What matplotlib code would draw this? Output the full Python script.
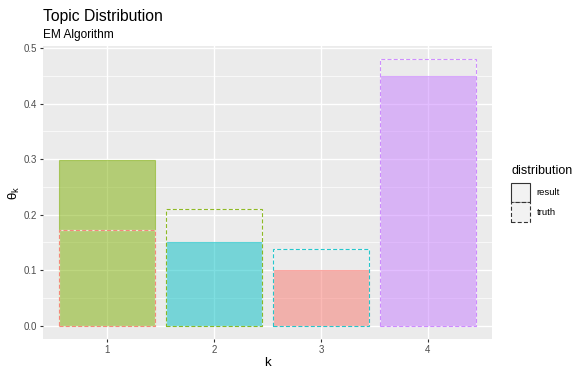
import matplotlib
matplotlib.use("Agg")
import matplotlib.pyplot as plt
from matplotlib.patches import Patch
import numpy as np

# data
k_labels = ["1", "2", "3", "4"]
result = [0.298, 0.150, 0.100, 0.450]
truth = [0.173, 0.210, 0.139, 0.480]

# ggplot default hue palette
hue = ["#F8766D", "#7CAE00", "#00BFC4", "#C77CFF"]
result_colors = [hue[1], hue[2], hue[0], hue[3]]
truth_colors = [hue[0], hue[1], hue[2], hue[3]]

plt.rcParams['font.family'] = ['Liberation Sans', 'DejaVu Sans']
plt.rcParams['mathtext.fontset'] = 'custom'
plt.rcParams['mathtext.rm'] = 'Liberation Sans'
plt.rcParams['mathtext.it'] = 'Liberation Sans'

W, H = 586, 376
fig = plt.figure(figsize=(W / 100, H / 100), dpi=100)
fig.patch.set_facecolor("white")

# panel position in pixels
left, right, top, bottom = 43, 492, 46, 339
ax = fig.add_axes([left / W, 1 - bottom / H, (right - left) / W, (bottom - top) / H])
ax.set_facecolor("#EBEBEB")

x = np.arange(1, len(k_labels) + 1)

# grid lines
for v in np.arange(0.05, 0.5, 0.1):
    ax.axhline(v, color="white", lw=0.5, zorder=0)
for v in np.arange(0.0, 0.51, 0.1):
    ax.axhline(v, color="white", lw=1.0, zorder=0)
for v in x:
    ax.axvline(v, color="white", lw=1.0, zorder=0)

# result bars (filled, translucent)
ax.bar(x, result, width=0.9, color=result_colors, alpha=0.5,
       edgecolor=result_colors, linewidth=0.8, zorder=2)

# truth bars (dashed outlines)
ax.bar(x, truth, width=0.9, fill=False, edgecolor="white", linewidth=0.9,
       alpha=0.7, zorder=3)
ax.bar(x, truth, width=0.9, fill=False, edgecolor=truth_colors, alpha=0.85,
       linewidth=0.8, linestyle=(0, (3.6, 2.0)), zorder=4)

ax.set_xlim(0.4, 4.6)
ax.set_ylim(-0.024, 0.504)
ax.set_xticks(x)
ax.set_xticklabels(k_labels)
ax.set_yticks(np.arange(0, 0.51, 0.1))
ax.set_yticklabels(["0.0", "0.1", "0.2", "0.3", "0.4", "0.5"])
ax.tick_params(axis="both", colors="#333333", labelcolor="#4D4D4D",
               labelsize=7, length=2.5, width=0.8, pad=2)
for s in ax.spines.values():
    s.set_visible(False)

ax.set_xlabel("k", fontsize=9.5, labelpad=1)
ax.set_ylabel(r"$\theta_k$", fontsize=9.5, labelpad=1)

fig.text(left / W, 1 - 21 / H, "Topic Distribution", fontsize=11.3, ha="left", va="baseline")
fig.text(left / W, 1 - 38 / H, "EM Algorithm", fontsize=8.6, ha="left", va="baseline")

handles = [
    Patch(facecolor="#F2F2F2", edgecolor="#333333", linewidth=0.8, linestyle="solid", label="result"),
    Patch(facecolor="#F2F2F2", edgecolor="#333333", linewidth=0.8, linestyle=(0, (3.6, 2.0)), label="truth"),
]
leg = fig.legend(handles=handles, title="distribution", loc="upper left",
                 bbox_to_anchor=(511 / W, 1 - 165 / H), frameon=False,
                 fontsize=6.8, title_fontsize=9, handlelength=2.0, handleheight=2.8,
                 labelspacing=0.0, handletextpad=0.7, borderaxespad=0, borderpad=0)
leg._legend_box.align = "left"
leg._legend_box.sep = 4

fig.savefig("out.png", dpi=100)
